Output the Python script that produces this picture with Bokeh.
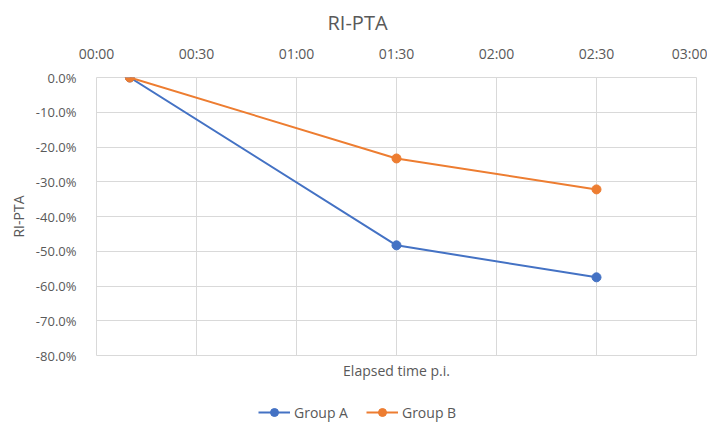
from bokeh.plotting import figure
from bokeh.layouts import column
from bokeh.models import (LinearAxis, FixedTicker, NumeralTickFormatter, Range1d,
                          Legend, LegendItem, Title)
from bokeh.embed import file_html
from bokeh.resources import INLINE

# data
minutes = [10, 90, 150]
group_a = [0.0, -0.483, -0.575]
group_b = [0.0, -0.233, -0.322]
x_ticks = [0, 30, 60, 90, 120, 150, 180]
x_labels = ["00:00", "00:30", "01:00", "01:30", "02:00", "02:30", "03:00"]
y_ticks = [0.0, -0.1, -0.2, -0.3, -0.4, -0.5, -0.6, -0.7, -0.8]
series_names = ["Group A", "Group B"]
series_colors = ["#4472C4", "#ED7D31"]

FONT = "Open Sans"
GRAY = "#595959"
GRID = "#d9d9d9"

p = figure(frame_width=600, frame_height=278, output_backend="svg", toolbar_location=None,
           x_range=Range1d(0, 180), y_range=Range1d(-0.8, 0.0),
           x_axis_location=None, y_axis_location="left",
           min_border_left=96, min_border_right=11, min_border_top=77, min_border_bottom=0)
p.outline_line_color = GRID
p.background_fill_color = "white"
p.border_fill_color = "white"

p.title.text = "RI-PTA"
p.title.align = "left"
p.title.offset = 231
p.title.text_font = FONT
p.title.text_font_size = "20px"
p.title.text_font_style = "normal"
p.title.text_color = GRAY
p.title.standoff = 10

top = LinearAxis(ticker=FixedTicker(ticks=x_ticks),
                 major_label_overrides={t: l for t, l in zip(x_ticks, x_labels)})
top.axis_line_color = None
top.major_tick_line_color = None
top.minor_tick_line_color = None
top.major_label_text_font = FONT
top.major_label_text_font_size = "14px"
top.major_label_text_color = GRAY
top.major_label_standoff = 9
p.add_layout(top, "above")

yax = p.yaxis[0]
yax.ticker = FixedTicker(ticks=y_ticks)
yax.formatter = NumeralTickFormatter(format="0.0%")
yax.axis_line_color = None
yax.major_tick_line_color = None
yax.minor_tick_line_color = None
yax.major_label_text_font = FONT
yax.major_label_text_font_size = "13px"
yax.major_label_text_color = GRAY
yax.major_label_standoff = 14
yax.axis_label = "RI-PTA"
yax.axis_label_text_font = FONT
yax.axis_label_text_font_size = "14px"
yax.axis_label_text_font_style = "normal"
yax.axis_label_text_color = GRAY
yax.axis_label_standoff = 5

p.xgrid.ticker = FixedTicker(ticks=x_ticks)
p.xgrid.grid_line_color = GRID
p.ygrid.ticker = FixedTicker(ticks=y_ticks)
p.ygrid.grid_line_color = GRID

for vals, col in zip([group_a, group_b], series_colors):
    p.line(minutes, vals, line_color=col, line_width=2)
    p.scatter(minutes, vals, size=9, fill_color=col, line_color=col)

xt = Title(text="Elapsed time p.i.", align="center", text_font=FONT, text_font_size="14px",
           text_font_style="normal", text_color=GRAY, standoff=6)
p.add_layout(xt, "below")

# legend strip: same series drawn outside its visible range, so only the legend shows
lg = figure(frame_width=600, frame_height=40, output_backend="svg", toolbar_location=None,
            x_range=Range1d(0, 180), y_range=Range1d(5, 6),
            x_axis_location=None, y_axis_location=None,
            min_border_left=96, min_border_right=11, min_border_top=0, min_border_bottom=0)
lg.outline_line_color = None
lg.xgrid.visible = False
lg.ygrid.visible = False
items = []
for vals, col, name in zip([group_a, group_b], series_colors, series_names):
    r1 = lg.line(minutes, vals, line_color=col, line_width=2)
    r2 = lg.scatter(minutes, vals, size=9, fill_color=col, line_color=col)
    items.append(LegendItem(label=name, renderers=[r1, r2]))

legend = Legend(items=items, orientation="horizontal", location=(162, 0),
                label_text_font=FONT, label_text_font_size="14px", label_text_color=GRAY,
                border_line_color=None, background_fill_alpha=0,
                glyph_width=32, spacing=18, margin=0, padding=4, label_standoff=4)
lg.add_layout(legend, "center")

open("out.html", "w").write(file_html(column(p, lg, spacing=0), INLINE))
